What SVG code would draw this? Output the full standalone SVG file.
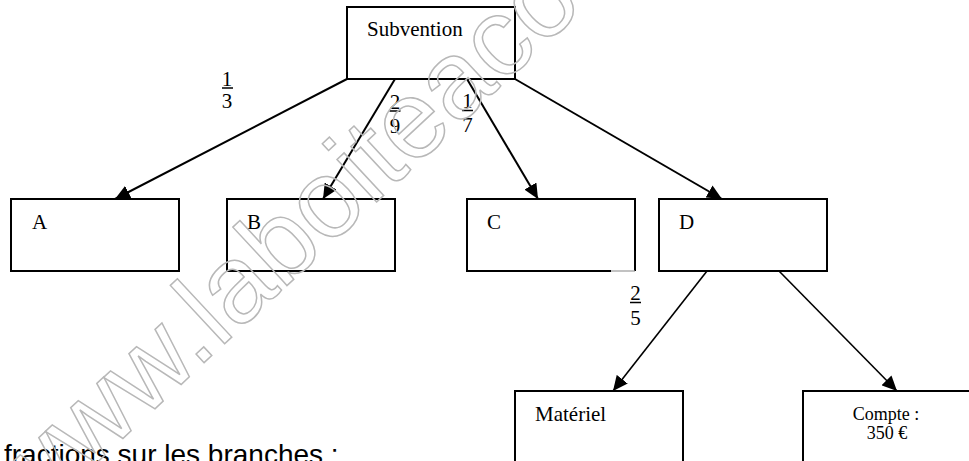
<svg xmlns="http://www.w3.org/2000/svg" width="969" height="461" viewBox="0 0 969 461">
  <style>
    .box { fill: none; stroke: #000; stroke-width: 2; }
    .lbl { font-family: "Liberation Serif", "Times New Roman", serif; font-size: 21px; fill: #000; }
    .small { font-family: "Liberation Serif", "Times New Roman", serif; font-size: 18px; fill: #000; }
    .frac { font-family: "Liberation Serif", "Times New Roman", serif; font-size: 21px; fill: #000; text-anchor: middle; }
    .bar { stroke: #000; stroke-width: 1.5; }
    .conn { stroke: #000; stroke-width: 2; fill: none; marker-end: url(#arrow); }
    .conn2 { stroke: #000; stroke-width: 1.6; fill: none; marker-end: url(#arrow); }
    .wm { font-family: "Liberation Sans", Arial, sans-serif; font-size: 110px; fill: none; stroke: #b8b8b8; stroke-width: 1.5; }
    .caption { font-family: "Liberation Sans", Arial, sans-serif; font-size: 28px; fill: #000; }
  </style>
  <defs>
    <marker id="arrow" markerUnits="userSpaceOnUse" markerWidth="16" markerHeight="14" refX="15" refY="7" orient="auto" viewBox="0 0 16 14">
      <path d="M0,0 L15,7 L0,14 Z" fill="#000"/>
    </marker>
  </defs>
  <rect width="969" height="461" fill="#fff"/>

  <g id="connectors">
    <line class="conn" x1="347" y1="79" x2="115" y2="199"/>
    <line class="conn" x1="395" y1="79" x2="323" y2="199"/>
    <line class="conn" x1="467" y1="79" x2="538" y2="199"/>
    <line class="conn" x1="515" y1="79" x2="722" y2="199"/>
    <line class="conn2" x1="707" y1="271" x2="613" y2="391"/>
    <line class="conn2" x1="779" y1="271" x2="897" y2="391"/>
  </g>

  <g id="fractions">
    <text class="frac" x="227" y="86">1</text>
    <line class="bar" x1="222" y1="88" x2="233" y2="88"/>
    <text class="frac" x="227" y="108">3</text>

    <text class="frac" x="395" y="109">2</text>
    <line class="bar" x1="389.5" y1="111" x2="400.5" y2="111"/>
    <text class="frac" x="395" y="133">9</text>

    <text class="frac" x="467.5" y="108">1</text>
    <line class="bar" x1="462" y1="110.5" x2="473" y2="110.5"/>
    <text class="frac" x="467.5" y="132">7</text>

    <text class="frac" x="635.5" y="300">2</text>
    <line class="bar" x1="630" y1="302.5" x2="641" y2="302.5"/>
    <text class="frac" x="635.5" y="325">5</text>
  </g>

  <g id="subvention">
    <rect class="box" x="347" y="7" width="168" height="72"/>
    <text class="lbl" x="367" y="36">Subvention</text>
  </g>
  <g id="A">
    <rect class="box" x="11" y="199" width="168" height="72"/>
    <text class="lbl" x="32" y="229">A</text>
  </g>
  <g id="B">
    <rect class="box" x="227" y="199" width="168" height="72"/>
    <text class="lbl" x="247" y="229">B</text>
  </g>
  <g id="C">
    <path class="box" d="M611,271 L467,271 L467,199 L635,199 L635,271"/>
    <line x1="611" y1="271" x2="635" y2="271" stroke="#9a9a9a" stroke-width="1.2"/>
    <text class="lbl" x="487" y="229">C</text>
  </g>
  <g id="D">
    <rect class="box" x="659" y="199" width="168" height="72"/>
    <text class="lbl" x="679" y="229">D</text>
  </g>
  <g id="materiel">
    <rect class="box" x="515" y="391" width="168" height="80"/>
    <text class="lbl" x="535" y="421">Matériel</text>
  </g>
  <g id="compte">
    <rect class="box" x="803" y="391" width="168" height="80"/>
    <text class="small" x="886" y="420" text-anchor="middle">Compte :</text>
    <text class="small" x="887" y="439" text-anchor="middle">350 €</text>
  </g>

  <text class="caption" x="4" y="464">fractions sur les branches :</text>

  <g id="watermark">
    <text class="wm" x="27" y="528" transform="rotate(-43 27 528)">www.laboiteaco</text>
  </g>
</svg>
